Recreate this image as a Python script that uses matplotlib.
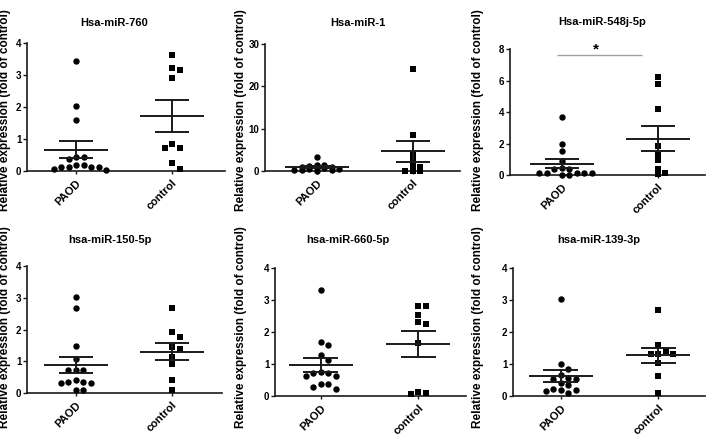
import numpy as np
import matplotlib
matplotlib.use("Agg")
import matplotlib.pyplot as plt

plt.rcParams["font.family"] = ["Liberation Sans", "DejaVu Sans"]
plt.rcParams["font.weight"] = "bold"

# data (fold of control)
groups = ["PAOD", "control"]

titles = ["Hsa-miR-760", "Hsa-miR-1", "Hsa-miR-548j-5p",
          "hsa-miR-150-5p", "hsa-miR-660-5p", "hsa-miR-139-3p"]

mir760_paod = [3.44, 2.04, 1.60, 0.45, 0.45, 0.38, 0.20, 0.18, 0.14, 0.13, 0.13, 0.12, 0.05, 0.02]
mir760_ctrl = [3.63, 3.21, 3.15, 2.90, 0.85, 0.72, 0.72, 0.24, 0.06]

mir1_paod = [3.3, 1.5, 1.4, 1.2, 1.0, 0.9, 0.8, 0.6, 0.5, 0.4, 0.3, 0.2, 0.2, 0.1]
mir1_ctrl = [24.1, 8.4, 3.7, 2.8, 1.3, 0.9, 0.1, 0.1, 0.1]

mir548_paod = [3.66, 1.95, 1.54, 0.89, 0.42, 0.40, 0.36, 0.15, 0.15, 0.15, 0.15, 0.15, 0.02, 0.02]
mir548_ctrl = [6.20, 5.75, 4.22, 1.82, 1.33, 0.95, 0.38, 0.13, 0.05]

mir150_paod = [3.03, 2.67, 1.49, 1.06, 0.74, 0.74, 0.72, 0.40, 0.36, 0.35, 0.32, 0.30, 0.11, 0.11]
mir150_ctrl = [2.67, 1.91, 1.75, 1.44, 1.40, 1.14, 0.90, 0.41, 0.11]

mir660_paod = [3.32, 1.69, 1.59, 1.29, 1.11, 0.74, 0.73, 0.72, 0.62, 0.61, 0.39, 0.38, 0.28, 0.21]
mir660_ctrl = [2.82, 2.80, 2.53, 2.31, 2.24, 1.66, 0.14, 0.10, 0.05]

mir139_paod = [3.04, 0.99, 0.83, 0.65, 0.55, 0.54, 0.52, 0.40, 0.33, 0.21, 0.20, 0.19, 0.15, 0.10]
mir139_ctrl = [2.70, 1.60, 1.42, 1.32, 1.32, 1.30, 1.03, 0.63, 0.10]

series = [(mir760_paod, mir760_ctrl), (mir1_paod, mir1_ctrl), (mir548_paod, mir548_ctrl),
          (mir150_paod, mir150_ctrl), (mir660_paod, mir660_ctrl), (mir139_paod, mir139_ctrl)]

y_max = [4, 30, 8, 4, 4, 4]
y_step = [1, 10, 2, 1, 1, 1]

# layout in pixels: left, right, y of zero line, y of top, xlim left, xlim right
W, H = 708, 438
layout = [
    (27, 225, 171, 43, -0.51, 1.55),
    (265, 460, 171, 44, -0.54, 1.49),
    (510, 705, 175, 49, -0.54, 1.49),
    (27, 222, 393, 266, -0.51, 1.52),
    (275, 466, 396, 268, -0.47, 1.49),
    (513, 705, 396, 268, -0.49, 1.48),
]
# vertical spacing (px) below which two points are pushed side by side
swarm_gap = [6.5, 2.6, 5.0, 6.5, 6.5, 6.5]
title_pos = [(114, 23), (358, 23), (602, 22), (110, 240), (348, 240), (599, 240)]
ylabel_pos = [(5, 110), (241, 110), (478, 110), (5, 327), (241, 327), (478, 327)]

ink = "#1a1a1a"


def swarm_x(ax, x0, vals, gap_px, step_px=7.5):
    # GraphPad-like column scatter: same slot only if far enough apart vertically
    pts = ax.transData.transform([(x0, v) for v in vals])
    px_per_x = ax.transData.transform([(1, 0)])[0][0] - ax.transData.transform([(0, 0)])[0][0]
    placed = []
    xs = []
    for y in pts[:, 1]:
        for s in [0, 1, -1, 2, -2, 3, -3, 4, -4, 5, -5]:
            if all(not (ps == s and abs(py - y) < gap_px) for ps, py in placed):
                break
        placed.append((s, y))
        xs.append(x0 + s * step_px / px_per_x)
    return np.array(xs)


fig = plt.figure(figsize=(W / 100, H / 100), dpi=100)

for i, (paod, ctrl) in enumerate(series):
    left, right, y0, ytop, xl, xr = layout[i]
    ax = fig.add_axes([left / W, (H - y0) / H, (right - left) / W, (y0 - ytop) / H])
    ax.set_xlim(xl, xr)
    ax.set_ylim(0, y_max[i])
    ax.set_yticks(np.arange(0, y_max[i] + 0.1, y_step[i]))
    ax.set_xticks([0, 1])
    ax.set_xticklabels(groups, rotation=45, ha="right", rotation_mode="anchor", fontsize=8)
    ax.tick_params(axis="y", labelsize=7, length=3, width=1, color=ink, pad=1)
    ax.tick_params(axis="x", length=2, width=1, color=ink, pad=3)
    for s in ["top", "right"]:
        ax.spines[s].set_visible(False)
    for s in ["left", "bottom"]:
        ax.spines[s].set_linewidth(1.2)
        ax.spines[s].set_color(ink)

    for x0, vals, mk in [(0, paod, "o"), (1, ctrl, "s")]:
        vals = np.array(vals)
        xs = swarm_x(ax, x0, vals, swarm_gap[i])
        ax.plot(xs, vals, mk, color="black", ms=4.6 if mk == "o" else 4.2,
                mew=0, clip_on=False, zorder=3)
        m = vals.mean()
        se = vals.std(ddof=1) / np.sqrt(len(vals))
        ax.hlines(m, x0 - 0.33, x0 + 0.33, color=ink, lw=1.4, zorder=4)
        ax.vlines(x0, m - se, m + se, color=ink, lw=1.4, zorder=4)
        ax.hlines([m - se, m + se], x0 - 0.18, x0 + 0.18, color=ink, lw=1.4, zorder=4)

    if i == 2:
        ax.hlines(7.65, -0.05, 0.83, color="#a0a0a0", lw=1, clip_on=False)
        ax.text(0.36, 7.55, "*", ha="center", va="bottom", fontsize=11, clip_on=False)

    tx, ty = title_pos[i]
    fig.text(tx / W, 1 - ty / H, titles[i], ha="center", va="center", fontsize=8)
    lx, ly = ylabel_pos[i]
    fig.text(lx / W, 1 - ly / H, "Relative expression (fold of control)",
             rotation=90, ha="center", va="center", fontsize=8.5)

fig.savefig("out.png", dpi=100)
